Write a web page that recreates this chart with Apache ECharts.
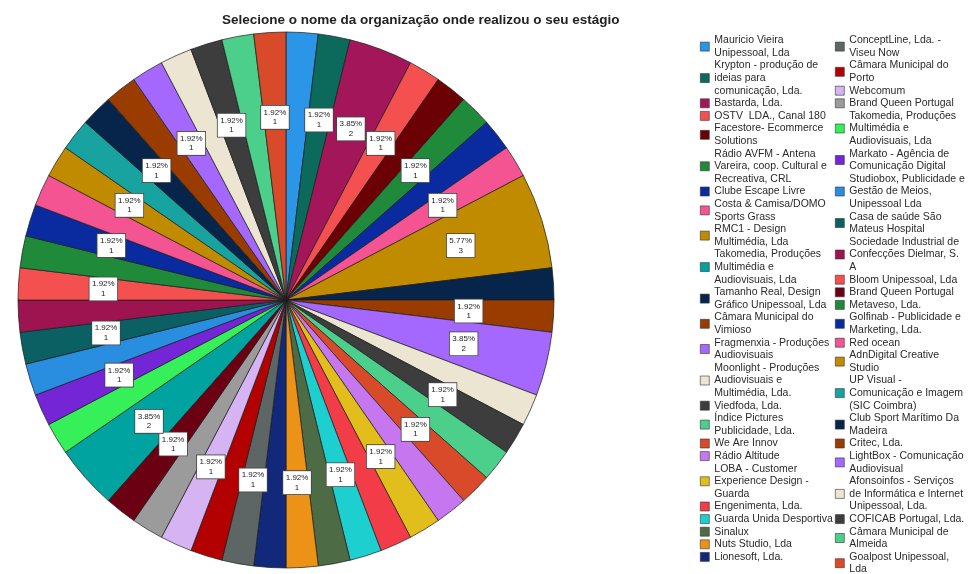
<!DOCTYPE html>
<html><head><meta charset="utf-8">
<script src="https://cdn.jsdelivr.net/npm/echarts@6/dist/echarts.min.js"></script>
<style>html,body{margin:0;padding:0;background:#fff}#c{width:972px;height:574px}</style>
</head><body><div id="c"></div>
<script>
const chartTitle = "Selecione o nome da organização onde realizou o seu estágio";

// Slices in drawing order (clockwise from 12 o'clock)
const sliceNames = [
  "Mauricio Vieira\nUnipessoal, Lda",
  "Krypton - produção de\nideias para\ncomunicação, Lda.",
  "Bastarda, Lda.",
  "OSTV  LDA., Canal 180",
  "Facestore- Ecommerce\nSolutions",
  "Rádio AVFM - Antena\nVareira, coop. Cultural e\nRecreativa, CRL",
  "Clube Escape Livre",
  "Costa & Camisa/DOMO\nSports Grass",
  "RMC1 - Design\nMultimédia, Lda",
  "Tamanho Real, Design\nGráfico Unipessoal, Lda",
  "Câmara Municipal do\nVimioso",
  "Fragmenxia - Produções\nAudiovisuais",
  "Moonlight - Produções\nAudiovisuais e\nMultimédia, Lda.",
  "Viedfoda, Lda.",
  "Índice Pictures\nPublicidade, Lda.",
  "We Are Innov",
  "Rádio Altitude",
  "LOBA - Customer\nExperience Design -\nGuarda",
  "Engenimenta, Lda.",
  "Guarda Unida Desportiva",
  "Sinalux",
  "Nuts Studio, Lda",
  "Lionesoft, Lda.",
  "ConceptLine, Lda. -\nViseu Now",
  "Câmara Municipal do\nPorto",
  "Webcomum",
  "Brand Queen Portugal",
  "Brand Queen Portugal ",
  "Takomedia, Produções\nMultimédia e\nAudiovisuais, Lda",
  "Takomedia, Produções\nMultimédia e\nAudiovisuais, Lda ",
  "Markato - Agência de\nComunicação Digital",
  "Studiobox, Publicidade e\nGestão de Meios,\nUnipessoal Lda",
  "Casa de saúde São\nMateus Hospital",
  "Sociedade Industrial de\nConfecções Dielmar, S.\nA",
  "Bloom Unipessoal, Lda",
  "Metaveso, Lda.",
  "Golfinab - Publicidade e\nMarketing, Lda.",
  "Red ocean",
  "AdnDigital Creative\nStudio",
  "UP Visual -\nComunicação e Imagem\n(SIC Coimbra)",
  "Club Sport Marítimo Da\nMadeira",
  "Critec, Lda.",
  "LightBox - Comunicação\nAudiovisual",
  "Afonsoinfos - Serviços\nde Informática e Internet\nUnipessoal, Lda.",
  "COFICAB Portugal, Lda.",
  "Câmara Municipal de\nAlmeida",
  "Goalpost Unipessoal,\nLda"
];
const sliceCounts = [
  1,1,2,1,1,1,1,1,3,1,1,2,1,1,1,1,1,1,1,1,1,1,1,
  1,1,1,1,1,2,1,1,1,1,1,1,1,1,1,1,1,1,1,1,1,1,1,1
];
const sliceColors = [
  "#2b95e8","#0b6a5b","#a3175a","#f55050","#6b0005","#1f8a3a","#0a2aa0","#f45592",
  "#c18b00","#07244a","#9a3c00","#a468ff","#ebe5d2","#3d3d3d","#4ccf8a","#d94a2a",
  "#c676ee","#e2be1d","#f23c48","#1ecfd0","#4d6c45","#ec9216","#12287a",
  "#5d6565","#b30000","#d6b4f4","#9b9b9b","#6b0012","#00a3a0","#36f05a","#7425d6",
  "#2a8ee0","#0a6062","#9e1450","#f55050","#1f8a3a","#0a2aa0","#f45592","#c18b00",
  "#18a2a0","#07244a","#9a3c00","#a468ff","#ebe5d2","#3d3d3d","#4ccf8a","#d94a2a"
];
// Legend order (two columns)
const legendColumn1 = [0,1,2,3,4,5,6,7,8,28,9,10,11,12,13,14,15,16,17,18,19,20,21,22].map(i => sliceNames[i]);
const legendColumn2 = [23,24,25,26,29,30,31,32,33,34,27,35,36,37,38,39,40,41,42,43,44,45,46].map(i => sliceNames[i]);
// Slices whose value label is displayed (others hidden to avoid overlap)
const labelledSlices = [1,2,3,5,7,8,10,11,13,15,17,19,21,23,25,27,28,30,32,34,36,38,40,42,44,46];

const total = sliceCounts.reduce((a, b) => a + b, 0);
const pieData = sliceNames.map((n, i) => ({ name: n, value: sliceCounts[i] }));
const labelData = sliceNames.map((n, i) => ({ name: n, value: sliceCounts[i], label: { show: labelledSlices.includes(i) } }));

const chart = echarts.init(document.getElementById('c'), null, { renderer: 'canvas' });
const legendBase = {
  orient: 'vertical', top: 34, padding: 0, itemGap: 0, itemWidth: 9, itemHeight: 9,
  icon: 'rect', height: 560, selectedMode: false,
  itemStyle: { borderColor: '#333', borderWidth: 0.6 },
  textStyle: { fontFamily: 'Liberation Sans', fontSize: 10.5, lineHeight: 12.6, color: '#2a2a2a' }
};
chart.setOption({
  animation: false,
  color: sliceColors,
  title: {
    text: chartTitle, left: 217, top: 8,
    textStyle: { fontFamily: 'Liberation Sans', fontSize: 13.5, fontWeight: 'bold', color: '#222' }
  },
  legend: [
    Object.assign({}, legendBase, { data: legendColumn1, left: 700 }),
    Object.assign({}, legendBase, { data: legendColumn2, left: 835 })
  ],
  series: [
    {
      type: 'pie', center: [286, 300], radius: [0, 268], startAngle: 90, clockwise: true,
      data: pieData, silent: true,
      label: { show: false }, labelLine: { show: false },
      itemStyle: { borderColor: '#1a1a1a', borderWidth: 0.7 },
      emphasis: { disabled: true }
    },
    {
      type: 'pie', center: [286, 300], radius: [92, 268], startAngle: 90, clockwise: true,
      data: labelData, silent: true, avoidLabelOverlap: false,
      labelLayout: { hideOverlap: false },
      itemStyle: { color: 'rgba(0,0,0,0)', borderWidth: 0 },
      labelLine: { show: false },
      emphasis: { disabled: true },
      label: {
        position: 'inside',
        formatter: p => (p.value / total * 100).toFixed(2) + '%\n' + p.value,
        fontFamily: 'Liberation Sans', fontSize: 8, lineHeight: 9.5, color: '#222',
        backgroundColor: '#fff', borderColor: '#444', borderWidth: 0.8, padding: [2, 2.5]
      }
    }
  ]
});
</script>
</body></html>
